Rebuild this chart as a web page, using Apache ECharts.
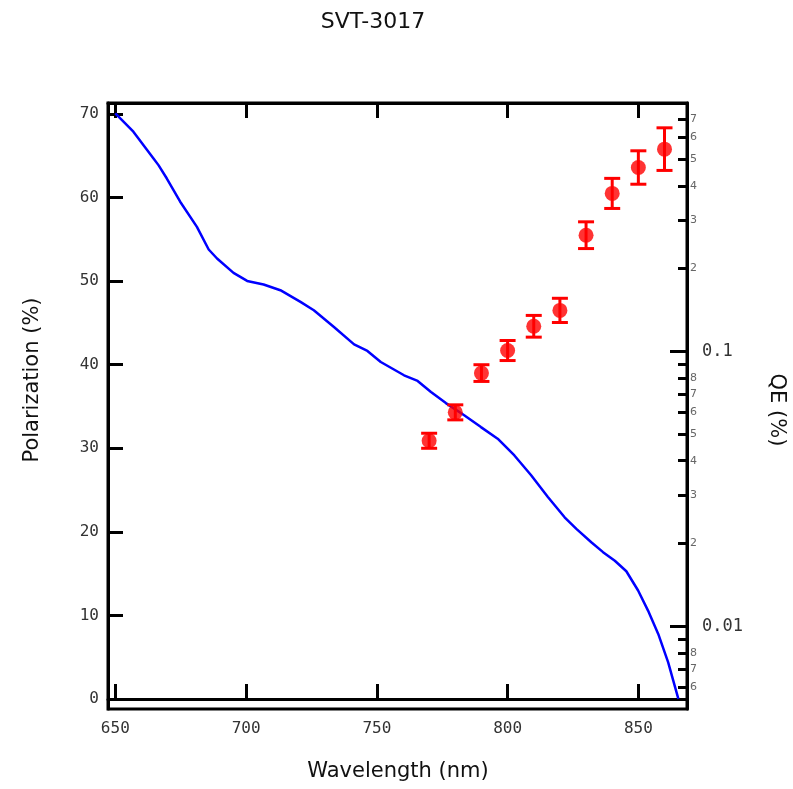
<!DOCTYPE html>
<html>
<head>
<meta charset="utf-8">
<script src="https://cdn.jsdelivr.net/npm/echarts@6/dist/echarts.min.js"></script>
<style>html,body{margin:0;padding:0;background:#fff;}#chart{width:793px;height:789px;}</style>
</head>
<body>
<div id="chart"></div>
<script>
// ---- data ----
const xTicks = [650, 700, 750, 800, 850];
const polTicks = [0, 10, 20, 30, 40, 50, 60, 70];
const qeMajorTicks = [0.01, 0.1];
const qeMinorTicks = [0.006, 0.007, 0.008, 0.009, 0.02, 0.03, 0.04, 0.05, 0.06, 0.07, 0.08, 0.09, 0.2, 0.3, 0.4, 0.5, 0.6, 0.7];
const qeMinorLabels = [0.006, 0.007, 0.008, 0.02, 0.03, 0.04, 0.05, 0.06, 0.07, 0.08, 0.2, 0.3, 0.4, 0.5, 0.6, 0.7];

const wavelengthQE = [650, 656.9, 664.6, 666.5, 669.7, 674.8, 681.2, 685.7, 688.9, 695.2, 700.4, 706.7, 713.1, 720.8, 725.9, 733.6, 741.3, 746.4, 751.5, 760.4, 765.6, 770.7, 776.4, 783.4, 789.8, 796.2, 802.6, 809, 815.4, 821.8, 826.3, 832, 836.5, 841, 845.4, 849.9, 853.7, 857.6, 861.4, 865.3];
const qe = [0.7335, 0.629, 0.503, 0.4755, 0.425, 0.350, 0.2835, 0.2346, 0.2175, 0.1928, 0.1803, 0.1749, 0.1668, 0.1512, 0.1410, 0.1226, 0.1060, 0.1003, 0.0914, 0.0818, 0.0780, 0.0711, 0.0648, 0.0585, 0.0530, 0.0481, 0.0418, 0.0354, 0.0295, 0.0249, 0.0226, 0.0202, 0.0186, 0.0173, 0.01585, 0.01349, 0.01140, 0.00938, 0.00739, 0.00544];

const wavelengthPol = [770, 780, 790, 800, 810, 820, 830, 840, 850, 860];
const polarization = [30.9, 34.3, 39.0, 41.7, 44.6, 46.5, 55.5, 60.5, 63.6, 65.8];
const polError = [0.9, 0.9, 1.0, 1.2, 1.3, 1.45, 1.6, 1.8, 2.0, 2.55];

// ---- build ----
const qeData = wavelengthQE.map((w, i) => [w, qe[i]]);
const polData = wavelengthPol.map((w, i) => [w, polarization[i]]);
const errData = wavelengthPol.map((w, i) => [w, polarization[i] - polError[i], polarization[i] + polError[i]]);

const tickFont = 'DejaVu Sans Mono';
const titleFont = 'DejaVu Sans';
const black = '#000';

const chart = echarts.init(document.getElementById('chart'), null, {renderer: 'canvas'});
const xCommon = {
  type: 'value', min: 647.2, max: 868.6,
  axisLine: {show: true, lineStyle: {color: black, width: 3}},
  splitLine: {show: false}
};
chart.setOption({
  animation: false,
  backgroundColor: '#fff',
  grid: {left: 108, right: 106, top: 103, bottom: 80, show: true, borderColor: black, borderWidth: 3},
  xAxis: [
    Object.assign({}, xCommon, {
      position: 'bottom',
      axisTick: {show: true, inside: true, length: 15, lineStyle: {color: black, width: 3}, customValues: xTicks},
      axisLabel: {show: true, customValues: xTicks, fontFamily: tickFont, fontSize: 16, color: '#333', margin: 12}
    }),
    Object.assign({}, xCommon, {
      position: 'top',
      axisTick: {show: true, inside: true, length: 15, lineStyle: {color: black, width: 3}, customValues: xTicks},
      axisLabel: {show: false}
    })
  ],
  yAxis: [
    {
      type: 'value', position: 'left', min: -1.2, max: 71.32,
      axisLine: {show: true, lineStyle: {color: black, width: 3}},
      axisTick: {show: true, inside: true, length: 15, lineStyle: {color: black, width: 3}, customValues: polTicks},
      axisLabel: {show: true, customValues: polTicks, fontFamily: tickFont, fontSize: 16, color: '#333', margin: 9},
      splitLine: {show: false}
    },
    {
      type: 'log', logBase: 10, position: 'right', min: 0.005, max: 0.8,
      axisLine: {show: true, lineStyle: {color: black, width: 3}},
      axisTick: {show: true, inside: true, length: 17, lineStyle: {color: black, width: 3}, customValues: qeMajorTicks},
      axisLabel: {show: true, customValues: qeMajorTicks, fontFamily: tickFont, fontSize: 17, color: '#333', margin: 15,
        formatter: v => (Math.abs(v - 0.1) < 1e-6 ? '0.1' : '0.01')},
      splitLine: {show: false}, minorTick: {show: false}
    },
    {
      type: 'log', logBase: 10, position: 'right', min: 0.005, max: 0.8,
      axisLine: {show: false},
      axisTick: {show: true, inside: true, length: 9, lineStyle: {color: black, width: 3}, customValues: qeMinorTicks},
      axisLabel: {show: true, customValues: qeMinorLabels, fontFamily: 'DejaVu Sans', fontSize: 11, color: '#666', margin: 3,
        formatter: v => String(Math.round(v / Math.pow(10, Math.floor(Math.log10(v) + 1e-9))))},
      splitLine: {show: false}, minorTick: {show: false}
    }
  ],
  series: [
    {
      type: 'line', name: 'QE', xAxisIndex: 0, yAxisIndex: 1, data: qeData,
      showSymbol: false, symbol: 'none', lineStyle: {color: '#0000ff', width: 2.5}, z: 3
    },
    {
      type: 'custom', name: 'err', xAxisIndex: 0, yAxisIndex: 0, data: errData, z: 4,
      renderItem: function (params, api) {
        const x = api.value(0);
        const lo = api.coord([x, api.value(1)]);
        const hi = api.coord([x, api.value(2)]);
        const hw = 8;
        const style = {stroke: '#ff0000', lineWidth: 3};
        return {
          type: 'group',
          children: [
            {type: 'line', shape: {x1: lo[0], y1: lo[1], x2: hi[0], y2: hi[1]}, style: style},
            {type: 'line', shape: {x1: lo[0] - hw, y1: lo[1], x2: lo[0] + hw, y2: lo[1]}, style: style},
            {type: 'line', shape: {x1: hi[0] - hw, y1: hi[1], x2: hi[0] + hw, y2: hi[1]}, style: style}
          ]
        };
      },
      encode: {x: 0, y: [1, 2]}
    },
    {
      type: 'scatter', name: 'Polarization', xAxisIndex: 0, yAxisIndex: 0, data: polData,
      symbol: 'circle', symbolSize: 15, itemStyle: {color: '#ff0000'}, z: 5
    }
  ],
  graphic: [
    {type: 'text', x: 373, y: 22, style: {text: 'SVT-3017', font: '22px "' + titleFont + '"', fill: '#111', textAlign: 'center', textVerticalAlign: 'middle'}},
    {type: 'text', x: 398, y: 772, style: {text: 'Wavelength (nm)', font: '21px "' + titleFont + '"', fill: '#111', textAlign: 'center', textVerticalAlign: 'middle'}},
    {type: 'text', x: 33, y: 380, rotation: Math.PI / 2, style: {text: 'Polarization (%)', font: '21px "' + titleFont + '"', fill: '#111', textAlign: 'center', textVerticalAlign: 'middle'}},
    {type: 'text', x: 776, y: 410, rotation: -Math.PI / 2, style: {text: 'QE (%)', font: '21px "' + titleFont + '"', fill: '#111', textAlign: 'center', textVerticalAlign: 'middle'}}
  ]
});
</script>
</body>
</html>
